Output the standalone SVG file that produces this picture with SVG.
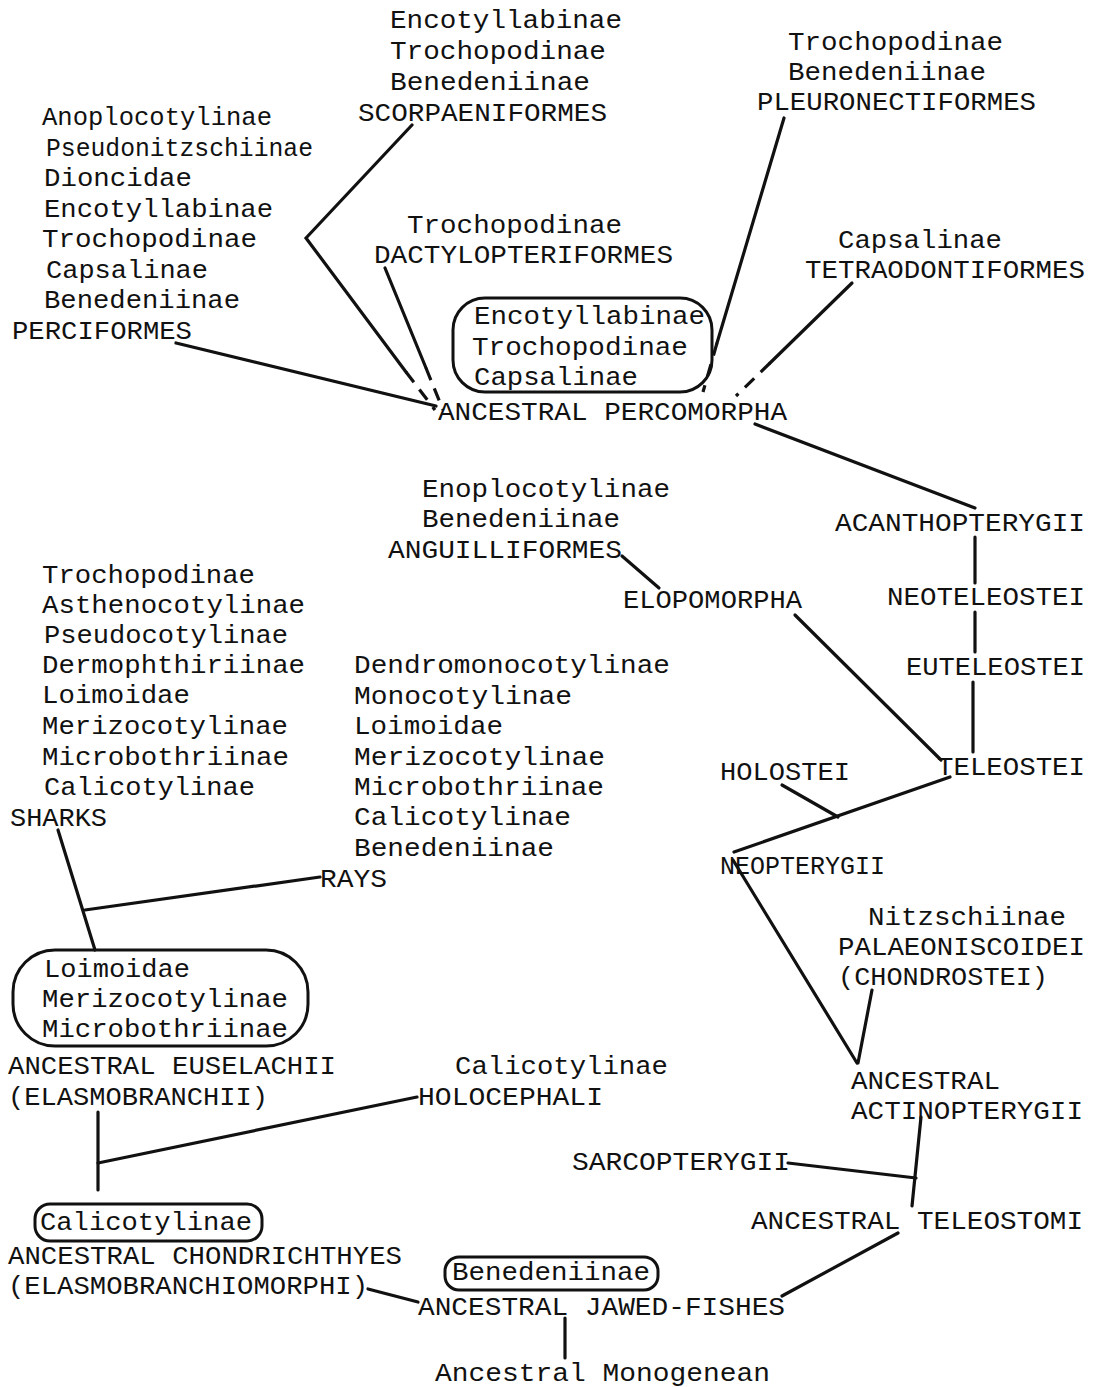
<svg xmlns="http://www.w3.org/2000/svg" width="1096" height="1387" viewBox="0 0 1096 1387">
<style>
text{font-family:"Liberation Mono","DejaVu Sans Mono",monospace;font-size:26px;fill:#111}
.ln{stroke:#111;stroke-width:3.2;fill:none;stroke-linecap:round}
.ds{stroke:#111;stroke-width:3.2;fill:none;stroke-dasharray:13 9}
.bx{stroke:#111;stroke-width:3;fill:none}
</style>
<rect width="1096" height="1387" fill="#fff"/>
<g id="connectors">
<polyline class="ln" points="412,125 306,238 406,372"/>
<line class="ds" x1="406" y1="372" x2="435" y2="410"/>
<line class="ln" x1="385" y1="268" x2="426" y2="368"/>
<line class="ds" x1="426" y1="368" x2="443" y2="410"/>
<line class="ln" x1="176" y1="343" x2="436" y2="406"/>
<line class="ln" x1="784" y1="118" x2="717" y2="343"/>
<line class="ds" x1="717" y1="343" x2="703" y2="392"/>
<line class="ln" x1="852" y1="283" x2="770" y2="363"/>
<line class="ds" x1="770" y1="363" x2="736" y2="396"/>
<line class="ln" x1="755" y1="424" x2="975" y2="508"/>
<line class="ln" x1="975" y1="537" x2="975" y2="583"/>
<line class="ln" x1="975" y1="612" x2="975" y2="652"/>
<line class="ln" x1="973" y1="682" x2="973" y2="752"/>
<line class="ln" x1="622" y1="556" x2="659" y2="588"/>
<line class="ln" x1="795" y1="615" x2="941" y2="760"/>
<line class="ln" x1="950" y1="777" x2="734" y2="852"/>
<line class="ln" x1="782" y1="785" x2="838" y2="817"/>
<line class="ln" x1="733" y1="860" x2="857" y2="1063"/>
<line class="ln" x1="872" y1="990" x2="858" y2="1063"/>
<line class="ln" x1="921" y1="1117" x2="912" y2="1206"/>
<line class="ln" x1="788" y1="1163" x2="916" y2="1178"/>
<line class="ln" x1="898" y1="1233" x2="782" y2="1296"/>
<line class="ln" x1="368" y1="1289" x2="418" y2="1302"/>
<line class="ln" x1="565" y1="1318" x2="565" y2="1358"/>
<line class="ln" x1="58" y1="830" x2="95" y2="950"/>
<line class="ln" x1="320" y1="877" x2="85" y2="910"/>
<line class="ln" x1="98" y1="1112" x2="98" y2="1190"/>
<line class="ln" x1="417" y1="1097" x2="98" y2="1163"/>
</g>
<g id="scorpaeniformes">
<text x="390" y="28" textLength="232" lengthAdjust="spacingAndGlyphs">Encotyllabinae</text>
<text x="390" y="59" textLength="216" lengthAdjust="spacingAndGlyphs">Trochopodinae</text>
<text x="390" y="90" textLength="200" lengthAdjust="spacingAndGlyphs">Benedeniinae</text>
<text x="358" y="121" textLength="249" lengthAdjust="spacingAndGlyphs">SCORPAENIFORMES</text>
</g>
<g id="pleuronectiformes">
<text x="788" y="50" textLength="215" lengthAdjust="spacingAndGlyphs">Trochopodinae</text>
<text x="788" y="80" textLength="198" lengthAdjust="spacingAndGlyphs">Benedeniinae</text>
<text x="757" y="110" textLength="279" lengthAdjust="spacingAndGlyphs">PLEURONECTIFORMES</text>
</g>
<g id="perciformes">
<text x="42" y="125" textLength="230" lengthAdjust="spacingAndGlyphs">Anoplocotylinae</text>
<text x="46" y="156" textLength="267" lengthAdjust="spacingAndGlyphs">Pseudonitzschiinae</text>
<text x="44" y="186" textLength="148" lengthAdjust="spacingAndGlyphs">Dioncidae</text>
<text x="44" y="217" textLength="229" lengthAdjust="spacingAndGlyphs">Encotyllabinae</text>
<text x="42" y="247" textLength="215" lengthAdjust="spacingAndGlyphs">Trochopodinae</text>
<text x="46" y="278" textLength="162" lengthAdjust="spacingAndGlyphs">Capsalinae</text>
<text x="44" y="308" textLength="196" lengthAdjust="spacingAndGlyphs">Benedeniinae</text>
<text x="12" y="339" textLength="180" lengthAdjust="spacingAndGlyphs">PERCIFORMES</text>
</g>
<g id="dactylopteriformes">
<text x="407" y="233" textLength="215" lengthAdjust="spacingAndGlyphs">Trochopodinae</text>
<text x="374" y="263" textLength="299" lengthAdjust="spacingAndGlyphs">DACTYLOPTERIFORMES</text>
</g>
<g id="tetraodontiformes">
<text x="838" y="248" textLength="164" lengthAdjust="spacingAndGlyphs">Capsalinae</text>
<text x="805" y="278" textLength="280" lengthAdjust="spacingAndGlyphs">TETRAODONTIFORMES</text>
</g>
<g id="percomorpha">
<rect class="bx" x="453" y="298" width="259" height="94" rx="32"/>
<text x="474" y="324" textLength="231" lengthAdjust="spacingAndGlyphs">Encotyllabinae</text>
<text x="472" y="355" textLength="216" lengthAdjust="spacingAndGlyphs">Trochopodinae</text>
<text x="474" y="385" textLength="164" lengthAdjust="spacingAndGlyphs">Capsalinae</text>
<text x="438" y="420" textLength="349" lengthAdjust="spacingAndGlyphs">ANCESTRAL PERCOMORPHA</text>
</g>
<g id="anguilliformes">
<text x="422" y="497" textLength="248" lengthAdjust="spacingAndGlyphs">Enoplocotylinae</text>
<text x="422" y="527" textLength="198" lengthAdjust="spacingAndGlyphs">Benedeniinae</text>
<text x="388" y="558" textLength="234" lengthAdjust="spacingAndGlyphs">ANGUILLIFORMES</text>
</g>
<g id="elopomorpha"><text x="623" y="608" textLength="179" lengthAdjust="spacingAndGlyphs">ELOPOMORPHA</text></g>
<g id="acanthopterygii"><text x="835" y="531" textLength="250" lengthAdjust="spacingAndGlyphs">ACANTHOPTERYGII</text></g>
<g id="neoteleostei"><text x="887" y="605" textLength="198" lengthAdjust="spacingAndGlyphs">NEOTELEOSTEI</text></g>
<g id="euteleostei"><text x="906" y="675" textLength="179" lengthAdjust="spacingAndGlyphs">EUTELEOSTEI</text></g>
<g id="teleostei"><text x="937" y="775" textLength="148" lengthAdjust="spacingAndGlyphs">TELEOSTEI</text></g>
<g id="holostei"><text x="720" y="780" textLength="130" lengthAdjust="spacingAndGlyphs">HOLOSTEI</text></g>
<g id="neopterygii"><text x="720" y="874" textLength="165" lengthAdjust="spacingAndGlyphs">NEOPTERYGII</text></g>
<g id="sharks">
<text x="42" y="583" textLength="213" lengthAdjust="spacingAndGlyphs">Trochopodinae</text>
<text x="42" y="613" textLength="263" lengthAdjust="spacingAndGlyphs">Asthenocotylinae</text>
<text x="44" y="643" textLength="244" lengthAdjust="spacingAndGlyphs">Pseudocotylinae</text>
<text x="42" y="673" textLength="263" lengthAdjust="spacingAndGlyphs">Dermophthiriinae</text>
<text x="42" y="703" textLength="148" lengthAdjust="spacingAndGlyphs">Loimoidae</text>
<text x="42" y="734" textLength="246" lengthAdjust="spacingAndGlyphs">Merizocotylinae</text>
<text x="42" y="765" textLength="247" lengthAdjust="spacingAndGlyphs">Microbothriinae</text>
<text x="44" y="795" textLength="211" lengthAdjust="spacingAndGlyphs">Calicotylinae</text>
<text x="10" y="826" textLength="97" lengthAdjust="spacingAndGlyphs">SHARKS</text>
</g>
<g id="rays">
<text x="354" y="673" textLength="316" lengthAdjust="spacingAndGlyphs">Dendromonocotylinae</text>
<text x="354" y="704" textLength="218" lengthAdjust="spacingAndGlyphs">Monocotylinae</text>
<text x="354" y="734" textLength="149" lengthAdjust="spacingAndGlyphs">Loimoidae</text>
<text x="354" y="765" textLength="251" lengthAdjust="spacingAndGlyphs">Merizocotylinae</text>
<text x="354" y="795" textLength="250" lengthAdjust="spacingAndGlyphs">Microbothriinae</text>
<text x="354" y="825" textLength="217" lengthAdjust="spacingAndGlyphs">Calicotylinae</text>
<text x="354" y="856" textLength="200" lengthAdjust="spacingAndGlyphs">Benedeniinae</text>
<text x="320" y="887" textLength="67" lengthAdjust="spacingAndGlyphs">RAYS</text>
</g>
<g id="euselachii">
<rect class="bx" x="13" y="950" width="295" height="96" rx="42"/>
<text x="44" y="977" textLength="146" lengthAdjust="spacingAndGlyphs">Loimoidae</text>
<text x="42" y="1007" textLength="246" lengthAdjust="spacingAndGlyphs">Merizocotylinae</text>
<text x="42" y="1037" textLength="246" lengthAdjust="spacingAndGlyphs">Microbothriinae</text>
<text x="8" y="1074" textLength="328" lengthAdjust="spacingAndGlyphs">ANCESTRAL EUSELACHII</text>
<text x="8" y="1105" textLength="260" lengthAdjust="spacingAndGlyphs">(ELASMOBRANCHII)</text>
</g>
<g id="holocephali">
<text x="455" y="1074" textLength="213" lengthAdjust="spacingAndGlyphs">Calicotylinae</text>
<text x="418" y="1105" textLength="185" lengthAdjust="spacingAndGlyphs">HOLOCEPHALI</text>
</g>
<g id="chondrichthyes">
<rect class="bx" x="35" y="1204" width="227" height="37" rx="15"/>
<text x="40" y="1230" textLength="212" lengthAdjust="spacingAndGlyphs">Calicotylinae</text>
<text x="8" y="1264" textLength="394" lengthAdjust="spacingAndGlyphs">ANCESTRAL CHONDRICHTHYES</text>
<text x="8" y="1294" textLength="360" lengthAdjust="spacingAndGlyphs">(ELASMOBRANCHIOMORPHI)</text>
</g>
<g id="jawed-fishes">
<rect class="bx" x="445" y="1257" width="213" height="33" rx="14"/>
<text x="452" y="1280" textLength="198" lengthAdjust="spacingAndGlyphs">Benedeniinae</text>
<text x="418" y="1315" textLength="367" lengthAdjust="spacingAndGlyphs">ANCESTRAL JAWED-FISHES</text>
</g>
<g id="monogenean"><text x="435" y="1381" textLength="335" lengthAdjust="spacingAndGlyphs">Ancestral Monogenean</text></g>
<g id="palaeoniscoidei">
<text x="868" y="925" textLength="198" lengthAdjust="spacingAndGlyphs">Nitzschiinae</text>
<text x="838" y="955" textLength="247" lengthAdjust="spacingAndGlyphs">PALAEONISCOIDEI</text>
<text x="838" y="985" textLength="210" lengthAdjust="spacingAndGlyphs">(CHONDROSTEI)</text>
</g>
<g id="actinopterygii">
<text x="851" y="1089" textLength="149" lengthAdjust="spacingAndGlyphs">ANCESTRAL</text>
<text x="851" y="1119" textLength="232" lengthAdjust="spacingAndGlyphs">ACTINOPTERYGII</text>
</g>
<g id="sarcopterygii"><text x="572" y="1170" textLength="218" lengthAdjust="spacingAndGlyphs">SARCOPTERYGII</text></g>
<g id="teleostomi"><text x="751" y="1229" textLength="332" lengthAdjust="spacingAndGlyphs">ANCESTRAL TELEOSTOMI</text></g>
</svg>
